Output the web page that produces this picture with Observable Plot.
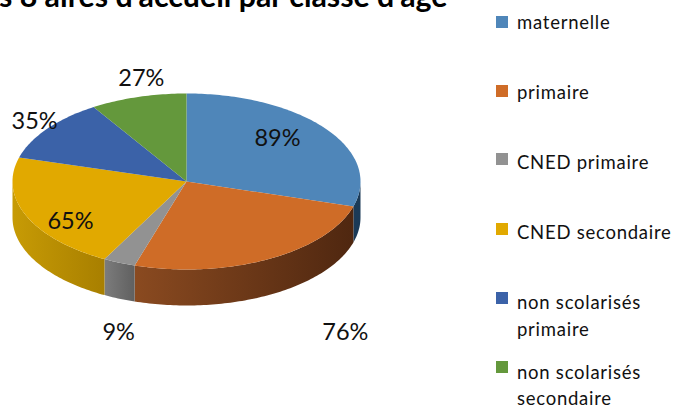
<!DOCTYPE html>
<html lang="fr">
<head>
<meta charset="utf-8">
<style>
  html, body { margin: 0; padding: 0; background: #fff; width: 674px; height: 407px; overflow: hidden; }
  body { position: relative; font-family: Lato, "Noto Sans", sans-serif; color: #111; }
  #title { position: absolute; left: -1px; top: -23px; font-size: 30.3px; font-weight: 700; line-height: 36px; white-space: nowrap; color: #000; }
  #chart { position: absolute; left: 0; top: 0; }
  .lg { position: absolute; left: 517px; font-size: 18.5px; letter-spacing: 0.75px; line-height: 16px; height: 16px; white-space: nowrap; }
  .sw { position: absolute; left: 496px; width: 12px; height: 12px; }
</style>
<script src="https://cdn.jsdelivr.net/npm/d3@7"></script>
<script src="https://cdn.jsdelivr.net/npm/@observablehq/plot@0.6"></script>
</head>
<body>
<div id="chart"></div>
<div id="title"></div>
<div id="legend"></div>
<script>
const titleText = "s 8 aires d'accueil par classe d'âge";
const categories = ["maternelle", "primaire", "CNED primaire", "CNED secondaire", "non scolarisés primaire", "non scolarisés secondaire"];
const legendLabels = [["maternelle"], ["primaire"], ["CNED primaire"], ["CNED secondaire"], ["non scolarisés", "primaire"], ["non scolarisés", "secondaire"]];
const values = [89, 76, 9, 65, 35, 27];
const colors = ["#4f86b9", "#cf6c27", "#929292", "#e1a900", "#3b62a8", "#64983c"];

// Layout and style of the 3D pie
const sideColors = [["#1b3a57", "#1b3a57"], ["#8a4a20", "#4f2710"], ["#7c7c7c", "#606060"], ["#c79b05", "#a87f00"], ["#223a64", "#223a64"], ["#3a5a24", "#3a5a24"]];
const labelPolar = [[46.9, 0.716], [152, 1.944], [192.8, 1.76], [235.7, 0.807], [308, 1.108], [347.5, 1.2]];
const legendTops = [16, 84.5, 153, 223, 291.5, 361];
const legendLineCenters = [[22], [92], [162], [232], [302, 329], [372, 398]];
const depth = 36 / 88;
const rad = d => d * Math.PI / 180;

const arcs = d3.pie().sort(null)(values).map((a, i) => ({category: categories[i], i, start: a.startAngle * 180 / Math.PI, end: a.endAngle * 180 / Math.PI}));
const arcPoints = (from, to) => d3.range(0, 1.0001, 1 / Math.max(2, Math.ceil(to - from))).map(t => from + t * (to - from));

const topPoints = arcs.flatMap(a => [
  {category: a.category, x: 0, y: 0},
  ...arcPoints(a.start, a.end).map(d => ({category: a.category, x: Math.sin(rad(d)), y: Math.cos(rad(d))}))
]);

const sideMarks = arcs.flatMap(a => {
  const from = Math.max(a.start, 90), to = Math.min(a.end, 270);
  if (to <= from) return [];
  const pts = arcPoints(from, to);
  const outline = [
    ...pts.map(d => ({x: Math.sin(rad(d)), y: Math.cos(rad(d))})),
    ...pts.slice().reverse().map(d => ({x: Math.sin(rad(d)), y: Math.cos(rad(d)) - depth}))
  ];
  return [Plot.line(outline, {x: "x", y: "y", fill: `url(#side${a.i})`, stroke: "none"})];
});

const defs = () => {
  const d = d3.create("svg:defs");
  sideColors.forEach((c, i) => {
    const g = d.append("linearGradient").attr("id", `side${i}`);
    g.append("stop").attr("offset", "0").attr("stop-color", c[0]);
    g.append("stop").attr("offset", "1").attr("stop-color", c[1]);
  });
  return d.node();
};

const labels = values.map((v, i) => ({
  text: `${v}%`,
  x: Math.sin(rad(labelPolar[i][0])) * labelPolar[i][1],
  y: Math.cos(rad(labelPolar[i][0])) * labelPolar[i][1]
}));

const plot = Plot.plot({
  width: 674, height: 407,
  marginTop: 0, marginRight: 0, marginBottom: 0, marginLeft: 0,
  style: {background: "transparent", fontFamily: "Lato, 'Noto Sans', sans-serif"},
  x: {domain: [-1, 1], range: [12, 360], axis: null},
  y: {domain: [-1, 1], range: [269, 93], axis: null},
  color: {domain: categories, range: colors},
  marks: [
    defs,
    ...sideMarks,
    Plot.line(topPoints, {x: "x", y: "y", z: "category", fill: "category", stroke: "none"}),
    Plot.text(labels, {x: "x", y: "y", text: "text", fontSize: 23.5, fill: "#111"})
  ]
});
document.getElementById("chart").append(plot);
document.getElementById("title").textContent = titleText;

const legend = document.getElementById("legend");
legendLabels.forEach((lines, i) => {
  const sw = document.createElement("div");
  sw.className = "sw";
  sw.style.top = legendTops[i] + "px";
  sw.style.background = colors[i];
  legend.append(sw);
  lines.forEach((line, j) => {
    const row = document.createElement("div");
    row.className = "lg";
    row.style.top = (legendLineCenters[i][j] - 8) + "px";
    row.textContent = line;
    legend.append(row);
  });
});
</script>
</body>
</html>
